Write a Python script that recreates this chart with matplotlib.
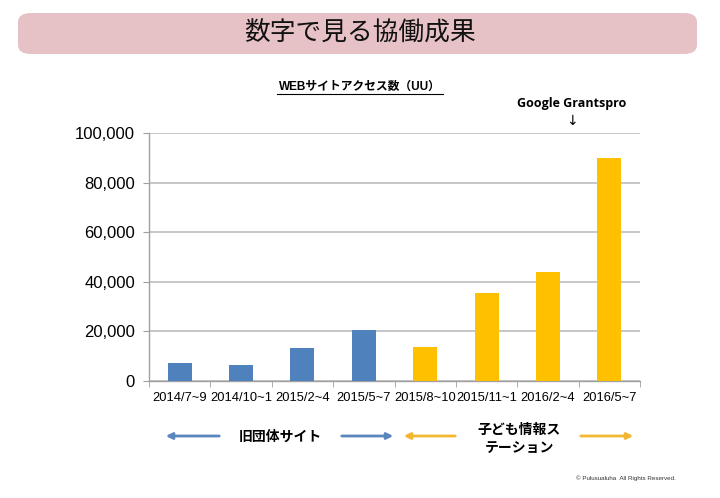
import matplotlib
matplotlib.use("Agg")
import matplotlib.pyplot as plt
from matplotlib.patches import FancyBboxPatch, FancyArrowPatch
from matplotlib.ticker import FuncFormatter, FixedLocator
import numpy as np

plt.rcParams['font.family'] = ['Liberation Sans', 'Noto Sans CJK JP', 'DejaVu Sans']

# データ
periods = ["2014/7~9", "2014/10~1", "2015/2~4", "2015/5~7",
           "2015/8~10", "2015/11~1", "2016/2~4", "2016/5~7"]
visits = [7300, 6500, 13500, 20400, 13800, 35500, 44100, 90000]
colors = ["#4F81BD"] * 4 + ["#FFC000"] * 4
yticks = [0, 20000, 40000, 60000, 80000, 100000]

fig = plt.figure(figsize=(7.2, 4.98), dpi=100)

# タイトルの帯
box = FancyBboxPatch((18 / 720, 1 - 54 / 498), 679 / 720, 41 / 498,
                     boxstyle="round,pad=0,rounding_size=0.018",
                     transform=fig.transFigure, facecolor="#E6C1C5",
                     edgecolor="none")
fig.patches.append(box)
fig.text(0.5, 1 - 34 / 498, "数字で見る協働成果", ha="center", va="center",
         fontsize=18.5, color="#111111")

fig.text(0.5, 1 - 87 / 498, "WEBサイトアクセス数（UU）", ha="center", va="center",
         fontsize=8.5, fontweight="bold")
fig.add_artist(plt.Line2D([277 / 720, 443 / 720], [1 - 94 / 498] * 2,
                          transform=fig.transFigure, color="black", lw=0.8))
fig.text(572 / 720, 1 - 104 / 498, "Google Grantspro", ha="center", va="center",
         fontsize=9, fontweight="bold", family=["Open Sans", "DejaVu Sans"])
fig.text(572 / 720, 1 - 121 / 498, "↓", ha="center", va="center", fontsize=10,
         family=["DejaVu Sans"])

ax = fig.add_axes([149 / 720, 1 - 381 / 498, 491 / 720, 248 / 498])
x = np.arange(len(periods))
ax.bar(x, visits, width=0.39, color=colors, zorder=3)
ax.set_xlim(-0.5, len(periods) - 0.5)
ax.set_ylim(0, 100000)
ax.set_yticks(yticks)
ax.yaxis.set_major_formatter(FuncFormatter(lambda v, p: f"{int(v):,}"))
ax.grid(axis="y", color="#BDBDBD", lw=1.2, zorder=0)
ax.set_xticks(x)
ax.set_xticklabels(periods, fontsize=9.3)
ax.xaxis.set_minor_locator(FixedLocator(np.arange(-0.5, len(periods), 1)))
ax.tick_params(axis="x", which="major", length=0, pad=8)
ax.tick_params(axis="x", which="minor", length=4, color="#A0A0A0")
ax.tick_params(axis="y", length=4, color="#A0A0A0", labelsize=12, pad=6)
for s in ["top", "right"]:
    ax.spines[s].set_visible(False)
for s in ["left", "bottom"]:
    ax.spines[s].set_color("#A0A0A0")
    ax.spines[s].set_linewidth(1.0)

# 下の矢印
def arrow(x0, x1, c):
    a = FancyArrowPatch((x0 / 720, 1 - 436 / 498), (x1 / 720, 1 - 436 / 498),
                        transform=fig.transFigure, arrowstyle="-|>",
                        mutation_scale=9, color=c, lw=2)
    fig.patches.append(a)

arrow(222, 163, "#5A86BE")
arrow(339, 396, "#5A86BE")
arrow(458, 401, "#F2B731")
arrow(578, 636, "#F2B731")
fig.text(280 / 720, 1 - 437 / 498, "旧団体サイト", ha="center", va="center",
         fontsize=10, fontweight="bold")
fig.text(519 / 720, 1 - 439 / 498, "子ども情報ス\nテーション", ha="center",
         va="center", fontsize=10, fontweight="bold", linespacing=1.3)

fig.text(676 / 720, 1 - 478 / 498, "© Pulusualuha  All Rights Reserved.",
         ha="right", va="center", fontsize=4.5, color="#333333")

fig.savefig("out.png", dpi=100)
